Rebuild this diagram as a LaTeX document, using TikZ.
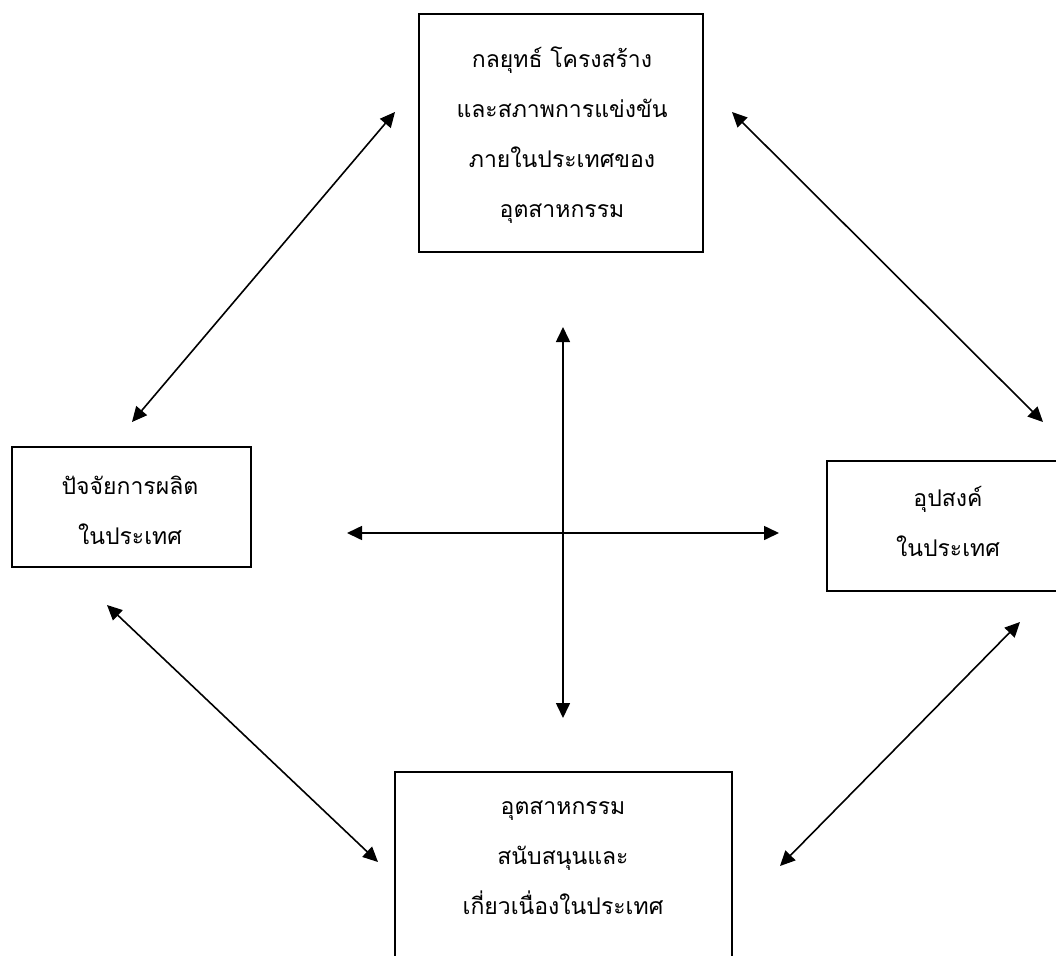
\documentclass[tikz,border=0pt]{standalone}
\usepackage{fontspec}
\newfontfamily\thaifont[Script=Thai]{Loma}
\usetikzlibrary{arrows.meta}
\tikzset{
  box/.style={draw, line width=1.5pt, inner sep=0pt},
  lbl/.style={align=center, font=\thaifont\fontsize{23}{50}\selectfont, inner sep=0pt},
  link/.style={line width=1.6pt, {Triangle[length=15pt,width=14pt]}-{Triangle[length=15pt,width=14pt]}}
}
\begin{document}
\begin{tikzpicture}[x=1pt,y=-1pt]
\useasboundingbox (0,0) rectangle (1056,955);
\clip (0,0) rectangle (1056,955);
% boxes
\node[box, minimum width=284, minimum height=238] (top) at (561,133) {};
\node[lbl] (toplbl) at (562,135) {กลยุทธ์ โครงสร้าง\\และสภาพการแข่งขัน\\ภายในประเทศของ\\อุตสาหกรรม};
\node[box, minimum width=239, minimum height=120] (left) at (131.5,507) {};
\node[lbl] (leftlbl) at (130,510) {ปัจจัยการผลิต\\ในประเทศ};
\node[box, minimum width=242, minimum height=130] (right) at (948,526) {};
\node[lbl] (rightlbl) at (948,521) {อุปสงค์\\ในประเทศ};
\node[box, minimum width=337, minimum height=220, anchor=north] (bot) at (563.5,771) {};
\node[lbl] (botlbl) at (563,858) {อุตสาหกรรม\\สนับสนุนและ\\เกี่ยวเนื่องในประเทศ};
% connector ends
\coordinate (tla) at (395,112);
\coordinate (tlb) at (132,422);
\coordinate (tra) at (732,112);
\coordinate (trb) at (1043,422);
\coordinate (bla) at (107,605);
\coordinate (blb) at (378,862);
\coordinate (bra) at (1020,622);
\coordinate (brb) at (780,866);
\coordinate (vt) at (563,327);
\coordinate (vb) at (563,718);
\coordinate (hl) at (347,533);
\coordinate (hr) at (779,533);
\draw[link] (tla) -- (tlb);
\draw[link] (tra) -- (trb);
\draw[link] (bla) -- (blb);
\draw[link] (bra) -- (brb);
\draw[link] (vt) -- (vb);
\draw[link] (hl) -- (hr);
\end{tikzpicture}
\end{document}
